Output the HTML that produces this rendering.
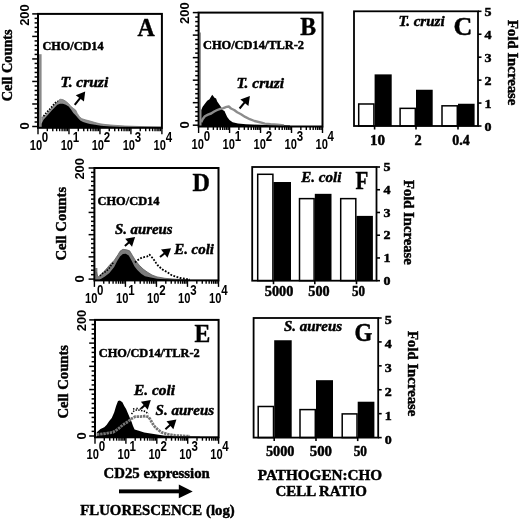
<!DOCTYPE html>
<html><head><meta charset="utf-8"><style>
html,body{margin:0;padding:0;background:#fff;width:520px;height:521px;overflow:hidden}
svg{display:block;filter:grayscale(1) blur(0.35px)}
</style></head><body>
<svg width="520" height="521" viewBox="0 0 520 521">
<rect x="0" y="0" width="520" height="521" fill="#fff"/>
<line x1="32.20" y1="13.90" x2="38.00" y2="13.90" stroke="#000" stroke-width="1.5"/>
<line x1="34.60" y1="18.40" x2="38.00" y2="18.40" stroke="#000" stroke-width="1.5"/>
<line x1="34.60" y1="22.91" x2="38.00" y2="22.91" stroke="#000" stroke-width="1.5"/>
<line x1="34.60" y1="27.41" x2="38.00" y2="27.41" stroke="#000" stroke-width="1.5"/>
<line x1="34.60" y1="31.92" x2="38.00" y2="31.92" stroke="#000" stroke-width="1.5"/>
<line x1="32.20" y1="36.42" x2="38.00" y2="36.42" stroke="#000" stroke-width="1.5"/>
<line x1="34.60" y1="40.92" x2="38.00" y2="40.92" stroke="#000" stroke-width="1.5"/>
<line x1="34.60" y1="45.43" x2="38.00" y2="45.43" stroke="#000" stroke-width="1.5"/>
<line x1="34.60" y1="49.93" x2="38.00" y2="49.93" stroke="#000" stroke-width="1.5"/>
<line x1="34.60" y1="54.44" x2="38.00" y2="54.44" stroke="#000" stroke-width="1.5"/>
<line x1="32.20" y1="58.94" x2="38.00" y2="58.94" stroke="#000" stroke-width="1.5"/>
<line x1="34.60" y1="63.44" x2="38.00" y2="63.44" stroke="#000" stroke-width="1.5"/>
<line x1="34.60" y1="67.95" x2="38.00" y2="67.95" stroke="#000" stroke-width="1.5"/>
<line x1="34.60" y1="72.45" x2="38.00" y2="72.45" stroke="#000" stroke-width="1.5"/>
<line x1="34.60" y1="76.96" x2="38.00" y2="76.96" stroke="#000" stroke-width="1.5"/>
<line x1="32.20" y1="81.46" x2="38.00" y2="81.46" stroke="#000" stroke-width="1.5"/>
<line x1="34.60" y1="85.96" x2="38.00" y2="85.96" stroke="#000" stroke-width="1.5"/>
<line x1="34.60" y1="90.47" x2="38.00" y2="90.47" stroke="#000" stroke-width="1.5"/>
<line x1="34.60" y1="94.97" x2="38.00" y2="94.97" stroke="#000" stroke-width="1.5"/>
<line x1="34.60" y1="99.48" x2="38.00" y2="99.48" stroke="#000" stroke-width="1.5"/>
<line x1="32.20" y1="103.98" x2="38.00" y2="103.98" stroke="#000" stroke-width="1.5"/>
<line x1="34.60" y1="108.48" x2="38.00" y2="108.48" stroke="#000" stroke-width="1.5"/>
<line x1="34.60" y1="112.99" x2="38.00" y2="112.99" stroke="#000" stroke-width="1.5"/>
<line x1="34.60" y1="117.49" x2="38.00" y2="117.49" stroke="#000" stroke-width="1.5"/>
<line x1="34.60" y1="122.00" x2="38.00" y2="122.00" stroke="#000" stroke-width="1.5"/>
<line x1="32.20" y1="126.50" x2="38.00" y2="126.50" stroke="#000" stroke-width="1.5"/>
<line x1="38.00" y1="127.80" x2="38.00" y2="134.30" stroke="#000" stroke-width="1.4"/>
<line x1="47.32" y1="127.80" x2="47.32" y2="131.20" stroke="#000" stroke-width="1.4"/>
<line x1="52.78" y1="127.80" x2="52.78" y2="131.20" stroke="#000" stroke-width="1.4"/>
<line x1="56.65" y1="127.80" x2="56.65" y2="131.20" stroke="#000" stroke-width="1.4"/>
<line x1="59.65" y1="127.80" x2="59.65" y2="131.20" stroke="#000" stroke-width="1.4"/>
<line x1="62.10" y1="127.80" x2="62.10" y2="131.20" stroke="#000" stroke-width="1.4"/>
<line x1="64.18" y1="127.80" x2="64.18" y2="131.20" stroke="#000" stroke-width="1.4"/>
<line x1="65.97" y1="127.80" x2="65.97" y2="131.20" stroke="#000" stroke-width="1.4"/>
<line x1="67.56" y1="127.80" x2="67.56" y2="131.20" stroke="#000" stroke-width="1.4"/>
<line x1="68.97" y1="127.80" x2="68.97" y2="134.30" stroke="#000" stroke-width="1.4"/>
<line x1="78.30" y1="127.80" x2="78.30" y2="131.20" stroke="#000" stroke-width="1.4"/>
<line x1="83.75" y1="127.80" x2="83.75" y2="131.20" stroke="#000" stroke-width="1.4"/>
<line x1="87.62" y1="127.80" x2="87.62" y2="131.20" stroke="#000" stroke-width="1.4"/>
<line x1="90.63" y1="127.80" x2="90.63" y2="131.20" stroke="#000" stroke-width="1.4"/>
<line x1="93.08" y1="127.80" x2="93.08" y2="131.20" stroke="#000" stroke-width="1.4"/>
<line x1="95.15" y1="127.80" x2="95.15" y2="131.20" stroke="#000" stroke-width="1.4"/>
<line x1="96.95" y1="127.80" x2="96.95" y2="131.20" stroke="#000" stroke-width="1.4"/>
<line x1="98.53" y1="127.80" x2="98.53" y2="131.20" stroke="#000" stroke-width="1.4"/>
<line x1="99.95" y1="127.80" x2="99.95" y2="134.30" stroke="#000" stroke-width="1.4"/>
<line x1="109.27" y1="127.80" x2="109.27" y2="131.20" stroke="#000" stroke-width="1.4"/>
<line x1="114.73" y1="127.80" x2="114.73" y2="131.20" stroke="#000" stroke-width="1.4"/>
<line x1="118.60" y1="127.80" x2="118.60" y2="131.20" stroke="#000" stroke-width="1.4"/>
<line x1="121.60" y1="127.80" x2="121.60" y2="131.20" stroke="#000" stroke-width="1.4"/>
<line x1="124.05" y1="127.80" x2="124.05" y2="131.20" stroke="#000" stroke-width="1.4"/>
<line x1="126.13" y1="127.80" x2="126.13" y2="131.20" stroke="#000" stroke-width="1.4"/>
<line x1="127.92" y1="127.80" x2="127.92" y2="131.20" stroke="#000" stroke-width="1.4"/>
<line x1="129.51" y1="127.80" x2="129.51" y2="131.20" stroke="#000" stroke-width="1.4"/>
<line x1="130.93" y1="127.80" x2="130.93" y2="134.30" stroke="#000" stroke-width="1.4"/>
<line x1="140.25" y1="127.80" x2="140.25" y2="131.20" stroke="#000" stroke-width="1.4"/>
<line x1="145.70" y1="127.80" x2="145.70" y2="131.20" stroke="#000" stroke-width="1.4"/>
<line x1="149.57" y1="127.80" x2="149.57" y2="131.20" stroke="#000" stroke-width="1.4"/>
<line x1="152.58" y1="127.80" x2="152.58" y2="131.20" stroke="#000" stroke-width="1.4"/>
<line x1="155.03" y1="127.80" x2="155.03" y2="131.20" stroke="#000" stroke-width="1.4"/>
<line x1="157.10" y1="127.80" x2="157.10" y2="131.20" stroke="#000" stroke-width="1.4"/>
<line x1="158.90" y1="127.80" x2="158.90" y2="131.20" stroke="#000" stroke-width="1.4"/>
<line x1="160.48" y1="127.80" x2="160.48" y2="131.20" stroke="#000" stroke-width="1.4"/>
<line x1="161.90" y1="127.80" x2="161.90" y2="134.30" stroke="#000" stroke-width="1.4"/>
<text x="29.7" y="150.0" style="font-family:'Liberation Sans',sans-serif;font-size:15.5px;font-weight:bold;" text-anchor="start" textLength="12.4" lengthAdjust="spacingAndGlyphs">10</text>
<text x="41.8" y="142.1" style="font-family:'Liberation Sans',sans-serif;font-size:14.0px;font-weight:bold;" text-anchor="start" textLength="6.4" lengthAdjust="spacingAndGlyphs">0</text>
<text x="60.675" y="150.0" style="font-family:'Liberation Sans',sans-serif;font-size:15.5px;font-weight:bold;" text-anchor="start" textLength="12.4" lengthAdjust="spacingAndGlyphs">10</text>
<text x="72.77499999999999" y="142.1" style="font-family:'Liberation Sans',sans-serif;font-size:14.0px;font-weight:bold;" text-anchor="start" textLength="6.4" lengthAdjust="spacingAndGlyphs">1</text>
<text x="91.64999999999999" y="150.0" style="font-family:'Liberation Sans',sans-serif;font-size:15.5px;font-weight:bold;" text-anchor="start" textLength="12.4" lengthAdjust="spacingAndGlyphs">10</text>
<text x="103.74999999999999" y="142.1" style="font-family:'Liberation Sans',sans-serif;font-size:14.0px;font-weight:bold;" text-anchor="start" textLength="6.4" lengthAdjust="spacingAndGlyphs">2</text>
<text x="122.62500000000001" y="150.0" style="font-family:'Liberation Sans',sans-serif;font-size:15.5px;font-weight:bold;" text-anchor="start" textLength="12.4" lengthAdjust="spacingAndGlyphs">10</text>
<text x="134.72500000000002" y="142.1" style="font-family:'Liberation Sans',sans-serif;font-size:14.0px;font-weight:bold;" text-anchor="start" textLength="6.4" lengthAdjust="spacingAndGlyphs">3</text>
<text x="153.60000000000002" y="150.0" style="font-family:'Liberation Sans',sans-serif;font-size:15.5px;font-weight:bold;" text-anchor="start" textLength="12.4" lengthAdjust="spacingAndGlyphs">10</text>
<text x="165.70000000000002" y="142.1" style="font-family:'Liberation Sans',sans-serif;font-size:14.0px;font-weight:bold;" text-anchor="start" textLength="6.4" lengthAdjust="spacingAndGlyphs">4</text>
<text x="28.7" y="25.8" style="font-family:'Liberation Sans',sans-serif;font-size:12.4px;font-weight:bold;" text-anchor="start" textLength="21.5" lengthAdjust="spacingAndGlyphs" transform="rotate(-90 28.7 25.8)">200</text>
<text x="28.7" y="129.5" style="font-family:'Liberation Sans',sans-serif;font-size:12.4px;font-weight:bold;" text-anchor="start" textLength="7.2" lengthAdjust="spacingAndGlyphs" transform="rotate(-90 28.7 129.5)">0</text>
<text x="137.6" y="35.6" style="font-family:'Liberation Serif',serif;font-size:26px;font-weight:bold;" text-anchor="start" textLength="17.2" lengthAdjust="spacingAndGlyphs" stroke="#000" stroke-width="0.45">A</text>
<text x="42.4" y="50.0" style="font-family:'Liberation Serif',serif;font-size:12px;font-weight:bold;" text-anchor="start" textLength="61.2" lengthAdjust="spacingAndGlyphs" stroke="#000" stroke-width="0.45">CHO/CD14</text>
<text x="60.6" y="86.5" style="font-family:'Liberation Serif',serif;font-size:14.3px;font-weight:bold;font-style:italic;" text-anchor="start" textLength="47.6" lengthAdjust="spacingAndGlyphs" stroke="#000" stroke-width="0.45">T. cruzi</text>
<text x="11.6" y="101.3" style="font-family:'Liberation Serif',serif;font-size:14.2px;font-weight:bold;" text-anchor="start" textLength="72" lengthAdjust="spacingAndGlyphs" transform="rotate(-90 11.6 101.3)" stroke="#000" stroke-width="0.45">Cell Counts</text>
<line x1="192.80" y1="12.60" x2="198.60" y2="12.60" stroke="#000" stroke-width="1.5"/>
<line x1="195.20" y1="17.10" x2="198.60" y2="17.10" stroke="#000" stroke-width="1.5"/>
<line x1="195.20" y1="21.61" x2="198.60" y2="21.61" stroke="#000" stroke-width="1.5"/>
<line x1="195.20" y1="26.11" x2="198.60" y2="26.11" stroke="#000" stroke-width="1.5"/>
<line x1="195.20" y1="30.62" x2="198.60" y2="30.62" stroke="#000" stroke-width="1.5"/>
<line x1="192.80" y1="35.12" x2="198.60" y2="35.12" stroke="#000" stroke-width="1.5"/>
<line x1="195.20" y1="39.62" x2="198.60" y2="39.62" stroke="#000" stroke-width="1.5"/>
<line x1="195.20" y1="44.13" x2="198.60" y2="44.13" stroke="#000" stroke-width="1.5"/>
<line x1="195.20" y1="48.63" x2="198.60" y2="48.63" stroke="#000" stroke-width="1.5"/>
<line x1="195.20" y1="53.14" x2="198.60" y2="53.14" stroke="#000" stroke-width="1.5"/>
<line x1="192.80" y1="57.64" x2="198.60" y2="57.64" stroke="#000" stroke-width="1.5"/>
<line x1="195.20" y1="62.14" x2="198.60" y2="62.14" stroke="#000" stroke-width="1.5"/>
<line x1="195.20" y1="66.65" x2="198.60" y2="66.65" stroke="#000" stroke-width="1.5"/>
<line x1="195.20" y1="71.15" x2="198.60" y2="71.15" stroke="#000" stroke-width="1.5"/>
<line x1="195.20" y1="75.66" x2="198.60" y2="75.66" stroke="#000" stroke-width="1.5"/>
<line x1="192.80" y1="80.16" x2="198.60" y2="80.16" stroke="#000" stroke-width="1.5"/>
<line x1="195.20" y1="84.66" x2="198.60" y2="84.66" stroke="#000" stroke-width="1.5"/>
<line x1="195.20" y1="89.17" x2="198.60" y2="89.17" stroke="#000" stroke-width="1.5"/>
<line x1="195.20" y1="93.67" x2="198.60" y2="93.67" stroke="#000" stroke-width="1.5"/>
<line x1="195.20" y1="98.18" x2="198.60" y2="98.18" stroke="#000" stroke-width="1.5"/>
<line x1="192.80" y1="102.68" x2="198.60" y2="102.68" stroke="#000" stroke-width="1.5"/>
<line x1="195.20" y1="107.18" x2="198.60" y2="107.18" stroke="#000" stroke-width="1.5"/>
<line x1="195.20" y1="111.69" x2="198.60" y2="111.69" stroke="#000" stroke-width="1.5"/>
<line x1="195.20" y1="116.19" x2="198.60" y2="116.19" stroke="#000" stroke-width="1.5"/>
<line x1="195.20" y1="120.70" x2="198.60" y2="120.70" stroke="#000" stroke-width="1.5"/>
<line x1="192.80" y1="125.20" x2="198.60" y2="125.20" stroke="#000" stroke-width="1.5"/>
<line x1="198.60" y1="126.50" x2="198.60" y2="133.00" stroke="#000" stroke-width="1.4"/>
<line x1="207.92" y1="126.50" x2="207.92" y2="129.90" stroke="#000" stroke-width="1.4"/>
<line x1="213.38" y1="126.50" x2="213.38" y2="129.90" stroke="#000" stroke-width="1.4"/>
<line x1="217.25" y1="126.50" x2="217.25" y2="129.90" stroke="#000" stroke-width="1.4"/>
<line x1="220.25" y1="126.50" x2="220.25" y2="129.90" stroke="#000" stroke-width="1.4"/>
<line x1="222.70" y1="126.50" x2="222.70" y2="129.90" stroke="#000" stroke-width="1.4"/>
<line x1="224.78" y1="126.50" x2="224.78" y2="129.90" stroke="#000" stroke-width="1.4"/>
<line x1="226.57" y1="126.50" x2="226.57" y2="129.90" stroke="#000" stroke-width="1.4"/>
<line x1="228.16" y1="126.50" x2="228.16" y2="129.90" stroke="#000" stroke-width="1.4"/>
<line x1="229.57" y1="126.50" x2="229.57" y2="133.00" stroke="#000" stroke-width="1.4"/>
<line x1="238.90" y1="126.50" x2="238.90" y2="129.90" stroke="#000" stroke-width="1.4"/>
<line x1="244.35" y1="126.50" x2="244.35" y2="129.90" stroke="#000" stroke-width="1.4"/>
<line x1="248.22" y1="126.50" x2="248.22" y2="129.90" stroke="#000" stroke-width="1.4"/>
<line x1="251.23" y1="126.50" x2="251.23" y2="129.90" stroke="#000" stroke-width="1.4"/>
<line x1="253.68" y1="126.50" x2="253.68" y2="129.90" stroke="#000" stroke-width="1.4"/>
<line x1="255.75" y1="126.50" x2="255.75" y2="129.90" stroke="#000" stroke-width="1.4"/>
<line x1="257.55" y1="126.50" x2="257.55" y2="129.90" stroke="#000" stroke-width="1.4"/>
<line x1="259.13" y1="126.50" x2="259.13" y2="129.90" stroke="#000" stroke-width="1.4"/>
<line x1="260.55" y1="126.50" x2="260.55" y2="133.00" stroke="#000" stroke-width="1.4"/>
<line x1="269.87" y1="126.50" x2="269.87" y2="129.90" stroke="#000" stroke-width="1.4"/>
<line x1="275.33" y1="126.50" x2="275.33" y2="129.90" stroke="#000" stroke-width="1.4"/>
<line x1="279.20" y1="126.50" x2="279.20" y2="129.90" stroke="#000" stroke-width="1.4"/>
<line x1="282.20" y1="126.50" x2="282.20" y2="129.90" stroke="#000" stroke-width="1.4"/>
<line x1="284.65" y1="126.50" x2="284.65" y2="129.90" stroke="#000" stroke-width="1.4"/>
<line x1="286.73" y1="126.50" x2="286.73" y2="129.90" stroke="#000" stroke-width="1.4"/>
<line x1="288.52" y1="126.50" x2="288.52" y2="129.90" stroke="#000" stroke-width="1.4"/>
<line x1="290.11" y1="126.50" x2="290.11" y2="129.90" stroke="#000" stroke-width="1.4"/>
<line x1="291.52" y1="126.50" x2="291.52" y2="133.00" stroke="#000" stroke-width="1.4"/>
<line x1="300.85" y1="126.50" x2="300.85" y2="129.90" stroke="#000" stroke-width="1.4"/>
<line x1="306.30" y1="126.50" x2="306.30" y2="129.90" stroke="#000" stroke-width="1.4"/>
<line x1="310.17" y1="126.50" x2="310.17" y2="129.90" stroke="#000" stroke-width="1.4"/>
<line x1="313.18" y1="126.50" x2="313.18" y2="129.90" stroke="#000" stroke-width="1.4"/>
<line x1="315.63" y1="126.50" x2="315.63" y2="129.90" stroke="#000" stroke-width="1.4"/>
<line x1="317.70" y1="126.50" x2="317.70" y2="129.90" stroke="#000" stroke-width="1.4"/>
<line x1="319.50" y1="126.50" x2="319.50" y2="129.90" stroke="#000" stroke-width="1.4"/>
<line x1="321.08" y1="126.50" x2="321.08" y2="129.90" stroke="#000" stroke-width="1.4"/>
<line x1="322.50" y1="126.50" x2="322.50" y2="133.00" stroke="#000" stroke-width="1.4"/>
<text x="191.60000000000002" y="148.9" style="font-family:'Liberation Sans',sans-serif;font-size:15.5px;font-weight:bold;" text-anchor="start" textLength="12.4" lengthAdjust="spacingAndGlyphs">10</text>
<text x="203.70000000000002" y="141.0" style="font-family:'Liberation Sans',sans-serif;font-size:14.0px;font-weight:bold;" text-anchor="start" textLength="6.4" lengthAdjust="spacingAndGlyphs">0</text>
<text x="222.57500000000002" y="148.9" style="font-family:'Liberation Sans',sans-serif;font-size:15.5px;font-weight:bold;" text-anchor="start" textLength="12.4" lengthAdjust="spacingAndGlyphs">10</text>
<text x="234.675" y="141.0" style="font-family:'Liberation Sans',sans-serif;font-size:14.0px;font-weight:bold;" text-anchor="start" textLength="6.4" lengthAdjust="spacingAndGlyphs">1</text>
<text x="253.55" y="148.9" style="font-family:'Liberation Sans',sans-serif;font-size:15.5px;font-weight:bold;" text-anchor="start" textLength="12.4" lengthAdjust="spacingAndGlyphs">10</text>
<text x="265.65000000000003" y="141.0" style="font-family:'Liberation Sans',sans-serif;font-size:14.0px;font-weight:bold;" text-anchor="start" textLength="6.4" lengthAdjust="spacingAndGlyphs">2</text>
<text x="284.52500000000003" y="148.9" style="font-family:'Liberation Sans',sans-serif;font-size:15.5px;font-weight:bold;" text-anchor="start" textLength="12.4" lengthAdjust="spacingAndGlyphs">10</text>
<text x="296.62500000000006" y="141.0" style="font-family:'Liberation Sans',sans-serif;font-size:14.0px;font-weight:bold;" text-anchor="start" textLength="6.4" lengthAdjust="spacingAndGlyphs">3</text>
<text x="315.50000000000006" y="148.9" style="font-family:'Liberation Sans',sans-serif;font-size:15.5px;font-weight:bold;" text-anchor="start" textLength="12.4" lengthAdjust="spacingAndGlyphs">10</text>
<text x="327.6000000000001" y="141.0" style="font-family:'Liberation Sans',sans-serif;font-size:14.0px;font-weight:bold;" text-anchor="start" textLength="6.4" lengthAdjust="spacingAndGlyphs">4</text>
<text x="188.8" y="23.9" style="font-family:'Liberation Sans',sans-serif;font-size:12.4px;font-weight:bold;" text-anchor="start" textLength="21.5" lengthAdjust="spacingAndGlyphs" transform="rotate(-90 188.8 23.9)">200</text>
<text x="188.8" y="128.4" style="font-family:'Liberation Sans',sans-serif;font-size:12.4px;font-weight:bold;" text-anchor="start" textLength="7.2" lengthAdjust="spacingAndGlyphs" transform="rotate(-90 188.8 128.4)">0</text>
<text x="300.2" y="35.0" style="font-family:'Liberation Serif',serif;font-size:26px;font-weight:bold;" text-anchor="start" textLength="15.8" lengthAdjust="spacingAndGlyphs" stroke="#000" stroke-width="0.45">B</text>
<text x="203.0" y="49.0" style="font-family:'Liberation Serif',serif;font-size:12px;font-weight:bold;" text-anchor="start" textLength="101" lengthAdjust="spacingAndGlyphs" stroke="#000" stroke-width="0.45">CHO/CD14/TLR-2</text>
<text x="236.6" y="88.2" style="font-family:'Liberation Serif',serif;font-size:14.3px;font-weight:bold;font-style:italic;" text-anchor="start" textLength="47.4" lengthAdjust="spacingAndGlyphs" stroke="#000" stroke-width="0.45">T. cruzi</text>
<rect x="358.70" y="103.99" width="15.20" height="22.01" fill="#fff" stroke="#000" stroke-width="1.5"/>
<rect x="374.60" y="74.38" width="17.10" height="51.62" fill="#000"/>
<rect x="400.10" y="108.35" width="15.20" height="17.65" fill="#fff" stroke="#000" stroke-width="1.5"/>
<rect x="416.00" y="89.75" width="16.70" height="36.25" fill="#000"/>
<rect x="442.00" y="105.82" width="15.30" height="20.18" fill="#fff" stroke="#000" stroke-width="1.5"/>
<rect x="458.00" y="103.75" width="16.60" height="22.25" fill="#000"/>
<rect x="354.00" y="11.30" width="124.00" height="114.70" fill="none" stroke="#000" stroke-width="1.8"/>
<line x1="478.00" y1="126.00" x2="481.50" y2="126.00" stroke="#000" stroke-width="1.6"/>
<text x="484.4" y="130.89999999999998" style="font-family:'Liberation Serif',serif;font-size:12.2px;font-weight:bold;" text-anchor="start" textLength="7.0" lengthAdjust="spacingAndGlyphs" stroke="#000" stroke-width="0.45">0</text>
<line x1="478.00" y1="103.06" x2="481.50" y2="103.06" stroke="#000" stroke-width="1.6"/>
<text x="484.4" y="107.96000000000001" style="font-family:'Liberation Serif',serif;font-size:12.2px;font-weight:bold;" text-anchor="start" textLength="7.0" lengthAdjust="spacingAndGlyphs" stroke="#000" stroke-width="0.45">1</text>
<line x1="478.00" y1="80.12" x2="481.50" y2="80.12" stroke="#000" stroke-width="1.6"/>
<text x="484.4" y="85.02000000000001" style="font-family:'Liberation Serif',serif;font-size:12.2px;font-weight:bold;" text-anchor="start" textLength="7.0" lengthAdjust="spacingAndGlyphs" stroke="#000" stroke-width="0.45">2</text>
<line x1="478.00" y1="57.18" x2="481.50" y2="57.18" stroke="#000" stroke-width="1.6"/>
<text x="484.4" y="62.08" style="font-family:'Liberation Serif',serif;font-size:12.2px;font-weight:bold;" text-anchor="start" textLength="7.0" lengthAdjust="spacingAndGlyphs" stroke="#000" stroke-width="0.45">3</text>
<line x1="478.00" y1="34.24" x2="481.50" y2="34.24" stroke="#000" stroke-width="1.6"/>
<text x="484.4" y="39.14" style="font-family:'Liberation Serif',serif;font-size:12.2px;font-weight:bold;" text-anchor="start" textLength="7.0" lengthAdjust="spacingAndGlyphs" stroke="#000" stroke-width="0.45">4</text>
<line x1="478.00" y1="11.30" x2="481.50" y2="11.30" stroke="#000" stroke-width="1.6"/>
<text x="484.4" y="16.199999999999996" style="font-family:'Liberation Serif',serif;font-size:12.2px;font-weight:bold;" text-anchor="start" textLength="7.0" lengthAdjust="spacingAndGlyphs" stroke="#000" stroke-width="0.45">5</text>
<line x1="374.60" y1="126.00" x2="374.60" y2="129.50" stroke="#000" stroke-width="1.6"/>
<line x1="416.00" y1="126.00" x2="416.00" y2="129.50" stroke="#000" stroke-width="1.6"/>
<line x1="458.00" y1="126.00" x2="458.00" y2="129.50" stroke="#000" stroke-width="1.6"/>
<text x="377.5" y="144.6" style="font-family:'Liberation Serif',serif;font-size:14px;font-weight:bold;" text-anchor="middle" textLength="15" lengthAdjust="spacingAndGlyphs" stroke="#000" stroke-width="0.45">10</text>
<text x="418" y="144.6" style="font-family:'Liberation Serif',serif;font-size:14px;font-weight:bold;" text-anchor="middle" textLength="7.2" lengthAdjust="spacingAndGlyphs" stroke="#000" stroke-width="0.45">2</text>
<text x="461" y="144.6" style="font-family:'Liberation Serif',serif;font-size:14px;font-weight:bold;" text-anchor="middle" textLength="17.5" lengthAdjust="spacingAndGlyphs" stroke="#000" stroke-width="0.45">0.4</text>
<text x="507.7" y="20" style="font-family:'Liberation Serif',serif;font-size:14px;font-weight:bold;" text-anchor="start" textLength="85.4" lengthAdjust="spacingAndGlyphs" transform="rotate(90 507.7 20)" stroke="#000" stroke-width="0.45">Fold Increase</text>
<text x="398.4" y="26.4" style="font-family:'Liberation Serif',serif;font-size:14.3px;font-weight:bold;font-style:italic;" text-anchor="start" textLength="46.2" lengthAdjust="spacingAndGlyphs" stroke="#000" stroke-width="0.45">T. cruzi</text>
<text x="453.4" y="35.0" style="font-family:'Liberation Serif',serif;font-size:26px;font-weight:bold;" text-anchor="start" textLength="18.8" lengthAdjust="spacingAndGlyphs" stroke="#000" stroke-width="0.45">C</text>
<line x1="88.60" y1="168.00" x2="94.40" y2="168.00" stroke="#000" stroke-width="1.5"/>
<line x1="91.00" y1="172.44" x2="94.40" y2="172.44" stroke="#000" stroke-width="1.5"/>
<line x1="91.00" y1="176.89" x2="94.40" y2="176.89" stroke="#000" stroke-width="1.5"/>
<line x1="91.00" y1="181.33" x2="94.40" y2="181.33" stroke="#000" stroke-width="1.5"/>
<line x1="91.00" y1="185.78" x2="94.40" y2="185.78" stroke="#000" stroke-width="1.5"/>
<line x1="88.60" y1="190.22" x2="94.40" y2="190.22" stroke="#000" stroke-width="1.5"/>
<line x1="91.00" y1="194.66" x2="94.40" y2="194.66" stroke="#000" stroke-width="1.5"/>
<line x1="91.00" y1="199.11" x2="94.40" y2="199.11" stroke="#000" stroke-width="1.5"/>
<line x1="91.00" y1="203.55" x2="94.40" y2="203.55" stroke="#000" stroke-width="1.5"/>
<line x1="91.00" y1="208.00" x2="94.40" y2="208.00" stroke="#000" stroke-width="1.5"/>
<line x1="88.60" y1="212.44" x2="94.40" y2="212.44" stroke="#000" stroke-width="1.5"/>
<line x1="91.00" y1="216.88" x2="94.40" y2="216.88" stroke="#000" stroke-width="1.5"/>
<line x1="91.00" y1="221.33" x2="94.40" y2="221.33" stroke="#000" stroke-width="1.5"/>
<line x1="91.00" y1="225.77" x2="94.40" y2="225.77" stroke="#000" stroke-width="1.5"/>
<line x1="91.00" y1="230.22" x2="94.40" y2="230.22" stroke="#000" stroke-width="1.5"/>
<line x1="88.60" y1="234.66" x2="94.40" y2="234.66" stroke="#000" stroke-width="1.5"/>
<line x1="91.00" y1="239.10" x2="94.40" y2="239.10" stroke="#000" stroke-width="1.5"/>
<line x1="91.00" y1="243.55" x2="94.40" y2="243.55" stroke="#000" stroke-width="1.5"/>
<line x1="91.00" y1="247.99" x2="94.40" y2="247.99" stroke="#000" stroke-width="1.5"/>
<line x1="91.00" y1="252.44" x2="94.40" y2="252.44" stroke="#000" stroke-width="1.5"/>
<line x1="88.60" y1="256.88" x2="94.40" y2="256.88" stroke="#000" stroke-width="1.5"/>
<line x1="91.00" y1="261.32" x2="94.40" y2="261.32" stroke="#000" stroke-width="1.5"/>
<line x1="91.00" y1="265.77" x2="94.40" y2="265.77" stroke="#000" stroke-width="1.5"/>
<line x1="91.00" y1="270.21" x2="94.40" y2="270.21" stroke="#000" stroke-width="1.5"/>
<line x1="91.00" y1="274.66" x2="94.40" y2="274.66" stroke="#000" stroke-width="1.5"/>
<line x1="88.60" y1="279.10" x2="94.40" y2="279.10" stroke="#000" stroke-width="1.5"/>
<line x1="94.40" y1="280.40" x2="94.40" y2="286.90" stroke="#000" stroke-width="1.4"/>
<line x1="103.74" y1="280.40" x2="103.74" y2="283.80" stroke="#000" stroke-width="1.4"/>
<line x1="109.20" y1="280.40" x2="109.20" y2="283.80" stroke="#000" stroke-width="1.4"/>
<line x1="113.08" y1="280.40" x2="113.08" y2="283.80" stroke="#000" stroke-width="1.4"/>
<line x1="116.09" y1="280.40" x2="116.09" y2="283.80" stroke="#000" stroke-width="1.4"/>
<line x1="118.54" y1="280.40" x2="118.54" y2="283.80" stroke="#000" stroke-width="1.4"/>
<line x1="120.62" y1="280.40" x2="120.62" y2="283.80" stroke="#000" stroke-width="1.4"/>
<line x1="122.42" y1="280.40" x2="122.42" y2="283.80" stroke="#000" stroke-width="1.4"/>
<line x1="124.01" y1="280.40" x2="124.01" y2="283.80" stroke="#000" stroke-width="1.4"/>
<line x1="125.43" y1="280.40" x2="125.43" y2="286.90" stroke="#000" stroke-width="1.4"/>
<line x1="134.76" y1="280.40" x2="134.76" y2="283.80" stroke="#000" stroke-width="1.4"/>
<line x1="140.23" y1="280.40" x2="140.23" y2="283.80" stroke="#000" stroke-width="1.4"/>
<line x1="144.10" y1="280.40" x2="144.10" y2="283.80" stroke="#000" stroke-width="1.4"/>
<line x1="147.11" y1="280.40" x2="147.11" y2="283.80" stroke="#000" stroke-width="1.4"/>
<line x1="149.57" y1="280.40" x2="149.57" y2="283.80" stroke="#000" stroke-width="1.4"/>
<line x1="151.64" y1="280.40" x2="151.64" y2="283.80" stroke="#000" stroke-width="1.4"/>
<line x1="153.44" y1="280.40" x2="153.44" y2="283.80" stroke="#000" stroke-width="1.4"/>
<line x1="155.03" y1="280.40" x2="155.03" y2="283.80" stroke="#000" stroke-width="1.4"/>
<line x1="156.45" y1="280.40" x2="156.45" y2="286.90" stroke="#000" stroke-width="1.4"/>
<line x1="165.79" y1="280.40" x2="165.79" y2="283.80" stroke="#000" stroke-width="1.4"/>
<line x1="171.25" y1="280.40" x2="171.25" y2="283.80" stroke="#000" stroke-width="1.4"/>
<line x1="175.13" y1="280.40" x2="175.13" y2="283.80" stroke="#000" stroke-width="1.4"/>
<line x1="178.14" y1="280.40" x2="178.14" y2="283.80" stroke="#000" stroke-width="1.4"/>
<line x1="180.59" y1="280.40" x2="180.59" y2="283.80" stroke="#000" stroke-width="1.4"/>
<line x1="182.67" y1="280.40" x2="182.67" y2="283.80" stroke="#000" stroke-width="1.4"/>
<line x1="184.47" y1="280.40" x2="184.47" y2="283.80" stroke="#000" stroke-width="1.4"/>
<line x1="186.06" y1="280.40" x2="186.06" y2="283.80" stroke="#000" stroke-width="1.4"/>
<line x1="187.47" y1="280.40" x2="187.47" y2="286.90" stroke="#000" stroke-width="1.4"/>
<line x1="196.81" y1="280.40" x2="196.81" y2="283.80" stroke="#000" stroke-width="1.4"/>
<line x1="202.28" y1="280.40" x2="202.28" y2="283.80" stroke="#000" stroke-width="1.4"/>
<line x1="206.15" y1="280.40" x2="206.15" y2="283.80" stroke="#000" stroke-width="1.4"/>
<line x1="209.16" y1="280.40" x2="209.16" y2="283.80" stroke="#000" stroke-width="1.4"/>
<line x1="211.62" y1="280.40" x2="211.62" y2="283.80" stroke="#000" stroke-width="1.4"/>
<line x1="213.69" y1="280.40" x2="213.69" y2="283.80" stroke="#000" stroke-width="1.4"/>
<line x1="215.49" y1="280.40" x2="215.49" y2="283.80" stroke="#000" stroke-width="1.4"/>
<line x1="217.08" y1="280.40" x2="217.08" y2="283.80" stroke="#000" stroke-width="1.4"/>
<line x1="218.50" y1="280.40" x2="218.50" y2="286.90" stroke="#000" stroke-width="1.4"/>
<text x="85.0" y="302.6" style="font-family:'Liberation Sans',sans-serif;font-size:15.5px;font-weight:bold;" text-anchor="start" textLength="12.4" lengthAdjust="spacingAndGlyphs">10</text>
<text x="97.1" y="294.70000000000005" style="font-family:'Liberation Sans',sans-serif;font-size:14.0px;font-weight:bold;" text-anchor="start" textLength="6.4" lengthAdjust="spacingAndGlyphs">0</text>
<text x="116.02499999999999" y="302.6" style="font-family:'Liberation Sans',sans-serif;font-size:15.5px;font-weight:bold;" text-anchor="start" textLength="12.4" lengthAdjust="spacingAndGlyphs">10</text>
<text x="128.125" y="294.70000000000005" style="font-family:'Liberation Sans',sans-serif;font-size:14.0px;font-weight:bold;" text-anchor="start" textLength="6.4" lengthAdjust="spacingAndGlyphs">1</text>
<text x="147.05" y="302.6" style="font-family:'Liberation Sans',sans-serif;font-size:15.5px;font-weight:bold;" text-anchor="start" textLength="12.4" lengthAdjust="spacingAndGlyphs">10</text>
<text x="159.15" y="294.70000000000005" style="font-family:'Liberation Sans',sans-serif;font-size:14.0px;font-weight:bold;" text-anchor="start" textLength="6.4" lengthAdjust="spacingAndGlyphs">2</text>
<text x="178.075" y="302.6" style="font-family:'Liberation Sans',sans-serif;font-size:15.5px;font-weight:bold;" text-anchor="start" textLength="12.4" lengthAdjust="spacingAndGlyphs">10</text>
<text x="190.17499999999998" y="294.70000000000005" style="font-family:'Liberation Sans',sans-serif;font-size:14.0px;font-weight:bold;" text-anchor="start" textLength="6.4" lengthAdjust="spacingAndGlyphs">3</text>
<text x="209.10000000000002" y="302.6" style="font-family:'Liberation Sans',sans-serif;font-size:15.5px;font-weight:bold;" text-anchor="start" textLength="12.4" lengthAdjust="spacingAndGlyphs">10</text>
<text x="221.20000000000002" y="294.70000000000005" style="font-family:'Liberation Sans',sans-serif;font-size:14.0px;font-weight:bold;" text-anchor="start" textLength="6.4" lengthAdjust="spacingAndGlyphs">4</text>
<text x="84.5" y="179.6" style="font-family:'Liberation Sans',sans-serif;font-size:12.4px;font-weight:bold;" text-anchor="start" textLength="21.5" lengthAdjust="spacingAndGlyphs" transform="rotate(-90 84.5 179.6)">200</text>
<text x="84.5" y="282.4" style="font-family:'Liberation Sans',sans-serif;font-size:12.4px;font-weight:bold;" text-anchor="start" textLength="7.2" lengthAdjust="spacingAndGlyphs" transform="rotate(-90 84.5 282.4)">0</text>
<text x="192.6" y="191.3" style="font-family:'Liberation Serif',serif;font-size:26px;font-weight:bold;" text-anchor="start" textLength="17.4" lengthAdjust="spacingAndGlyphs" stroke="#000" stroke-width="0.45">D</text>
<text x="97.5" y="204.5" style="font-family:'Liberation Serif',serif;font-size:12px;font-weight:bold;" text-anchor="start" textLength="62" lengthAdjust="spacingAndGlyphs" stroke="#000" stroke-width="0.45">CHO/CD14</text>
<text x="115.0" y="233.5" style="font-family:'Liberation Serif',serif;font-size:14.3px;font-weight:bold;font-style:italic;" text-anchor="start" textLength="57.5" lengthAdjust="spacingAndGlyphs" stroke="#000" stroke-width="0.45">S. aureus</text>
<text x="174.2" y="253.8" style="font-family:'Liberation Serif',serif;font-size:14.3px;font-weight:bold;font-style:italic;" text-anchor="start" textLength="39.8" lengthAdjust="spacingAndGlyphs" stroke="#000" stroke-width="0.45">E. coli</text>
<text x="66.0" y="260.6" style="font-family:'Liberation Serif',serif;font-size:14.2px;font-weight:bold;" text-anchor="start" textLength="73.7" lengthAdjust="spacingAndGlyphs" transform="rotate(-90 66.0 260.6)" stroke="#000" stroke-width="0.45">Cell Counts</text>
<rect x="257.70" y="174.29" width="15.20" height="106.41" fill="#fff" stroke="#000" stroke-width="1.5"/>
<rect x="273.50" y="182.01" width="17.50" height="98.69" fill="#000"/>
<rect x="299.50" y="198.63" width="14.60" height="82.07" fill="#fff" stroke="#000" stroke-width="1.5"/>
<rect x="314.80" y="193.83" width="16.70" height="86.87" fill="#000"/>
<rect x="340.70" y="198.63" width="15.10" height="82.07" fill="#fff" stroke="#000" stroke-width="1.5"/>
<rect x="356.50" y="215.89" width="16.40" height="64.81" fill="#000"/>
<rect x="252.20" y="167.00" width="124.30" height="113.70" fill="none" stroke="#000" stroke-width="1.8"/>
<line x1="376.50" y1="280.70" x2="380.00" y2="280.70" stroke="#000" stroke-width="1.6"/>
<text x="383.6" y="284.9" style="font-family:'Liberation Serif',serif;font-size:12.2px;font-weight:bold;" text-anchor="start" textLength="7.0" lengthAdjust="spacingAndGlyphs" stroke="#000" stroke-width="0.45">0</text>
<line x1="376.50" y1="257.96" x2="380.00" y2="257.96" stroke="#000" stroke-width="1.6"/>
<text x="383.6" y="262.15999999999997" style="font-family:'Liberation Serif',serif;font-size:12.2px;font-weight:bold;" text-anchor="start" textLength="7.0" lengthAdjust="spacingAndGlyphs" stroke="#000" stroke-width="0.45">1</text>
<line x1="376.50" y1="235.22" x2="380.00" y2="235.22" stroke="#000" stroke-width="1.6"/>
<text x="383.6" y="239.42" style="font-family:'Liberation Serif',serif;font-size:12.2px;font-weight:bold;" text-anchor="start" textLength="7.0" lengthAdjust="spacingAndGlyphs" stroke="#000" stroke-width="0.45">2</text>
<line x1="376.50" y1="212.48" x2="380.00" y2="212.48" stroke="#000" stroke-width="1.6"/>
<text x="383.6" y="216.67999999999998" style="font-family:'Liberation Serif',serif;font-size:12.2px;font-weight:bold;" text-anchor="start" textLength="7.0" lengthAdjust="spacingAndGlyphs" stroke="#000" stroke-width="0.45">3</text>
<line x1="376.50" y1="189.74" x2="380.00" y2="189.74" stroke="#000" stroke-width="1.6"/>
<text x="383.6" y="193.94" style="font-family:'Liberation Serif',serif;font-size:12.2px;font-weight:bold;" text-anchor="start" textLength="7.0" lengthAdjust="spacingAndGlyphs" stroke="#000" stroke-width="0.45">4</text>
<line x1="376.50" y1="167.00" x2="380.00" y2="167.00" stroke="#000" stroke-width="1.6"/>
<text x="383.6" y="171.2" style="font-family:'Liberation Serif',serif;font-size:12.2px;font-weight:bold;" text-anchor="start" textLength="7.0" lengthAdjust="spacingAndGlyphs" stroke="#000" stroke-width="0.45">5</text>
<line x1="273.50" y1="280.70" x2="273.50" y2="284.20" stroke="#000" stroke-width="1.6"/>
<line x1="314.80" y1="280.70" x2="314.80" y2="284.20" stroke="#000" stroke-width="1.6"/>
<line x1="356.50" y1="280.70" x2="356.50" y2="284.20" stroke="#000" stroke-width="1.6"/>
<text x="279" y="296.4" style="font-family:'Liberation Serif',serif;font-size:14px;font-weight:bold;" text-anchor="middle" textLength="28.5" lengthAdjust="spacingAndGlyphs" stroke="#000" stroke-width="0.45">5000</text>
<text x="319" y="296.4" style="font-family:'Liberation Serif',serif;font-size:14px;font-weight:bold;" text-anchor="middle" textLength="21.3" lengthAdjust="spacingAndGlyphs" stroke="#000" stroke-width="0.45">500</text>
<text x="358.5" y="296.4" style="font-family:'Liberation Serif',serif;font-size:14px;font-weight:bold;" text-anchor="middle" textLength="13" lengthAdjust="spacingAndGlyphs" stroke="#000" stroke-width="0.45">50</text>
<text x="403.6" y="180" style="font-family:'Liberation Serif',serif;font-size:14px;font-weight:bold;" text-anchor="start" textLength="84.7" lengthAdjust="spacingAndGlyphs" transform="rotate(90 403.6 180)" stroke="#000" stroke-width="0.45">Fold Increase</text>
<text x="301.3" y="181.7" style="font-family:'Liberation Serif',serif;font-size:14.3px;font-weight:bold;font-style:italic;" text-anchor="start" textLength="40" lengthAdjust="spacingAndGlyphs" stroke="#000" stroke-width="0.45">E. coli</text>
<text x="355.6" y="189.4" style="font-family:'Liberation Serif',serif;font-size:26px;font-weight:bold;" text-anchor="start" textLength="12.8" lengthAdjust="spacingAndGlyphs" stroke="#000" stroke-width="0.45">F</text>
<line x1="89.20" y1="319.90" x2="95.00" y2="319.90" stroke="#000" stroke-width="1.5"/>
<line x1="91.60" y1="324.54" x2="95.00" y2="324.54" stroke="#000" stroke-width="1.5"/>
<line x1="91.60" y1="329.19" x2="95.00" y2="329.19" stroke="#000" stroke-width="1.5"/>
<line x1="91.60" y1="333.83" x2="95.00" y2="333.83" stroke="#000" stroke-width="1.5"/>
<line x1="91.60" y1="338.48" x2="95.00" y2="338.48" stroke="#000" stroke-width="1.5"/>
<line x1="89.20" y1="343.12" x2="95.00" y2="343.12" stroke="#000" stroke-width="1.5"/>
<line x1="91.60" y1="347.76" x2="95.00" y2="347.76" stroke="#000" stroke-width="1.5"/>
<line x1="91.60" y1="352.41" x2="95.00" y2="352.41" stroke="#000" stroke-width="1.5"/>
<line x1="91.60" y1="357.05" x2="95.00" y2="357.05" stroke="#000" stroke-width="1.5"/>
<line x1="91.60" y1="361.70" x2="95.00" y2="361.70" stroke="#000" stroke-width="1.5"/>
<line x1="89.20" y1="366.34" x2="95.00" y2="366.34" stroke="#000" stroke-width="1.5"/>
<line x1="91.60" y1="370.98" x2="95.00" y2="370.98" stroke="#000" stroke-width="1.5"/>
<line x1="91.60" y1="375.63" x2="95.00" y2="375.63" stroke="#000" stroke-width="1.5"/>
<line x1="91.60" y1="380.27" x2="95.00" y2="380.27" stroke="#000" stroke-width="1.5"/>
<line x1="91.60" y1="384.92" x2="95.00" y2="384.92" stroke="#000" stroke-width="1.5"/>
<line x1="89.20" y1="389.56" x2="95.00" y2="389.56" stroke="#000" stroke-width="1.5"/>
<line x1="91.60" y1="394.20" x2="95.00" y2="394.20" stroke="#000" stroke-width="1.5"/>
<line x1="91.60" y1="398.85" x2="95.00" y2="398.85" stroke="#000" stroke-width="1.5"/>
<line x1="91.60" y1="403.49" x2="95.00" y2="403.49" stroke="#000" stroke-width="1.5"/>
<line x1="91.60" y1="408.14" x2="95.00" y2="408.14" stroke="#000" stroke-width="1.5"/>
<line x1="89.20" y1="412.78" x2="95.00" y2="412.78" stroke="#000" stroke-width="1.5"/>
<line x1="91.60" y1="417.42" x2="95.00" y2="417.42" stroke="#000" stroke-width="1.5"/>
<line x1="91.60" y1="422.07" x2="95.00" y2="422.07" stroke="#000" stroke-width="1.5"/>
<line x1="91.60" y1="426.71" x2="95.00" y2="426.71" stroke="#000" stroke-width="1.5"/>
<line x1="91.60" y1="431.36" x2="95.00" y2="431.36" stroke="#000" stroke-width="1.5"/>
<line x1="89.20" y1="436.00" x2="95.00" y2="436.00" stroke="#000" stroke-width="1.5"/>
<line x1="95.00" y1="437.30" x2="95.00" y2="443.80" stroke="#000" stroke-width="1.4"/>
<line x1="104.30" y1="437.30" x2="104.30" y2="440.70" stroke="#000" stroke-width="1.4"/>
<line x1="109.74" y1="437.30" x2="109.74" y2="440.70" stroke="#000" stroke-width="1.4"/>
<line x1="113.60" y1="437.30" x2="113.60" y2="440.70" stroke="#000" stroke-width="1.4"/>
<line x1="116.60" y1="437.30" x2="116.60" y2="440.70" stroke="#000" stroke-width="1.4"/>
<line x1="119.04" y1="437.30" x2="119.04" y2="440.70" stroke="#000" stroke-width="1.4"/>
<line x1="121.11" y1="437.30" x2="121.11" y2="440.70" stroke="#000" stroke-width="1.4"/>
<line x1="122.91" y1="437.30" x2="122.91" y2="440.70" stroke="#000" stroke-width="1.4"/>
<line x1="124.49" y1="437.30" x2="124.49" y2="440.70" stroke="#000" stroke-width="1.4"/>
<line x1="125.90" y1="437.30" x2="125.90" y2="443.80" stroke="#000" stroke-width="1.4"/>
<line x1="135.20" y1="437.30" x2="135.20" y2="440.70" stroke="#000" stroke-width="1.4"/>
<line x1="140.64" y1="437.30" x2="140.64" y2="440.70" stroke="#000" stroke-width="1.4"/>
<line x1="144.50" y1="437.30" x2="144.50" y2="440.70" stroke="#000" stroke-width="1.4"/>
<line x1="147.50" y1="437.30" x2="147.50" y2="440.70" stroke="#000" stroke-width="1.4"/>
<line x1="149.94" y1="437.30" x2="149.94" y2="440.70" stroke="#000" stroke-width="1.4"/>
<line x1="152.01" y1="437.30" x2="152.01" y2="440.70" stroke="#000" stroke-width="1.4"/>
<line x1="153.81" y1="437.30" x2="153.81" y2="440.70" stroke="#000" stroke-width="1.4"/>
<line x1="155.39" y1="437.30" x2="155.39" y2="440.70" stroke="#000" stroke-width="1.4"/>
<line x1="156.80" y1="437.30" x2="156.80" y2="443.80" stroke="#000" stroke-width="1.4"/>
<line x1="166.10" y1="437.30" x2="166.10" y2="440.70" stroke="#000" stroke-width="1.4"/>
<line x1="171.54" y1="437.30" x2="171.54" y2="440.70" stroke="#000" stroke-width="1.4"/>
<line x1="175.40" y1="437.30" x2="175.40" y2="440.70" stroke="#000" stroke-width="1.4"/>
<line x1="178.40" y1="437.30" x2="178.40" y2="440.70" stroke="#000" stroke-width="1.4"/>
<line x1="180.84" y1="437.30" x2="180.84" y2="440.70" stroke="#000" stroke-width="1.4"/>
<line x1="182.91" y1="437.30" x2="182.91" y2="440.70" stroke="#000" stroke-width="1.4"/>
<line x1="184.71" y1="437.30" x2="184.71" y2="440.70" stroke="#000" stroke-width="1.4"/>
<line x1="186.29" y1="437.30" x2="186.29" y2="440.70" stroke="#000" stroke-width="1.4"/>
<line x1="187.70" y1="437.30" x2="187.70" y2="443.80" stroke="#000" stroke-width="1.4"/>
<line x1="197.00" y1="437.30" x2="197.00" y2="440.70" stroke="#000" stroke-width="1.4"/>
<line x1="202.44" y1="437.30" x2="202.44" y2="440.70" stroke="#000" stroke-width="1.4"/>
<line x1="206.30" y1="437.30" x2="206.30" y2="440.70" stroke="#000" stroke-width="1.4"/>
<line x1="209.30" y1="437.30" x2="209.30" y2="440.70" stroke="#000" stroke-width="1.4"/>
<line x1="211.74" y1="437.30" x2="211.74" y2="440.70" stroke="#000" stroke-width="1.4"/>
<line x1="213.81" y1="437.30" x2="213.81" y2="440.70" stroke="#000" stroke-width="1.4"/>
<line x1="215.61" y1="437.30" x2="215.61" y2="440.70" stroke="#000" stroke-width="1.4"/>
<line x1="217.19" y1="437.30" x2="217.19" y2="440.70" stroke="#000" stroke-width="1.4"/>
<line x1="218.60" y1="437.30" x2="218.60" y2="443.80" stroke="#000" stroke-width="1.4"/>
<text x="86.6" y="459.0" style="font-family:'Liberation Sans',sans-serif;font-size:15.5px;font-weight:bold;" text-anchor="start" textLength="12.4" lengthAdjust="spacingAndGlyphs">10</text>
<text x="98.69999999999999" y="451.1" style="font-family:'Liberation Sans',sans-serif;font-size:14.0px;font-weight:bold;" text-anchor="start" textLength="6.4" lengthAdjust="spacingAndGlyphs">0</text>
<text x="117.49999999999999" y="459.0" style="font-family:'Liberation Sans',sans-serif;font-size:15.5px;font-weight:bold;" text-anchor="start" textLength="12.4" lengthAdjust="spacingAndGlyphs">10</text>
<text x="129.6" y="451.1" style="font-family:'Liberation Sans',sans-serif;font-size:14.0px;font-weight:bold;" text-anchor="start" textLength="6.4" lengthAdjust="spacingAndGlyphs">1</text>
<text x="148.4" y="459.0" style="font-family:'Liberation Sans',sans-serif;font-size:15.5px;font-weight:bold;" text-anchor="start" textLength="12.4" lengthAdjust="spacingAndGlyphs">10</text>
<text x="160.5" y="451.1" style="font-family:'Liberation Sans',sans-serif;font-size:14.0px;font-weight:bold;" text-anchor="start" textLength="6.4" lengthAdjust="spacingAndGlyphs">2</text>
<text x="179.3" y="459.0" style="font-family:'Liberation Sans',sans-serif;font-size:15.5px;font-weight:bold;" text-anchor="start" textLength="12.4" lengthAdjust="spacingAndGlyphs">10</text>
<text x="191.4" y="451.1" style="font-family:'Liberation Sans',sans-serif;font-size:14.0px;font-weight:bold;" text-anchor="start" textLength="6.4" lengthAdjust="spacingAndGlyphs">3</text>
<text x="210.2" y="459.0" style="font-family:'Liberation Sans',sans-serif;font-size:15.5px;font-weight:bold;" text-anchor="start" textLength="12.4" lengthAdjust="spacingAndGlyphs">10</text>
<text x="222.29999999999998" y="451.1" style="font-family:'Liberation Sans',sans-serif;font-size:14.0px;font-weight:bold;" text-anchor="start" textLength="6.4" lengthAdjust="spacingAndGlyphs">4</text>
<text x="85.6" y="331.2" style="font-family:'Liberation Sans',sans-serif;font-size:12.4px;font-weight:bold;" text-anchor="start" textLength="21.5" lengthAdjust="spacingAndGlyphs" transform="rotate(-90 85.6 331.2)">200</text>
<text x="85.6" y="439.6" style="font-family:'Liberation Sans',sans-serif;font-size:12.4px;font-weight:bold;" text-anchor="start" textLength="7.2" lengthAdjust="spacingAndGlyphs" transform="rotate(-90 85.6 439.6)">0</text>
<text x="194.6" y="341.9" style="font-family:'Liberation Serif',serif;font-size:26px;font-weight:bold;" text-anchor="start" textLength="15.8" lengthAdjust="spacingAndGlyphs" stroke="#000" stroke-width="0.45">E</text>
<text x="98.8" y="356.9" style="font-family:'Liberation Serif',serif;font-size:12px;font-weight:bold;" text-anchor="start" textLength="101" lengthAdjust="spacingAndGlyphs" stroke="#000" stroke-width="0.45">CHO/CD14/TLR-2</text>
<text x="134.0" y="395.0" style="font-family:'Liberation Serif',serif;font-size:14.3px;font-weight:bold;font-style:italic;" text-anchor="start" textLength="41" lengthAdjust="spacingAndGlyphs" stroke="#000" stroke-width="0.45">E. coli</text>
<text x="155.6" y="415.0" style="font-family:'Liberation Serif',serif;font-size:14.3px;font-weight:bold;font-style:italic;" text-anchor="start" textLength="58.5" lengthAdjust="spacingAndGlyphs" stroke="#000" stroke-width="0.45">S. aureus</text>
<text x="68.0" y="418.5" style="font-family:'Liberation Serif',serif;font-size:14.2px;font-weight:bold;" text-anchor="start" textLength="73.5" lengthAdjust="spacingAndGlyphs" transform="rotate(-90 68.0 418.5)" stroke="#000" stroke-width="0.45">Cell Counts</text>
<text x="103.6" y="477.9" style="font-family:'Liberation Serif',serif;font-size:14.6px;font-weight:bold;" text-anchor="start" textLength="106.2" lengthAdjust="spacingAndGlyphs" stroke="#000" stroke-width="0.45">CD25 expression</text>
<text x="80.2" y="515.0" style="font-family:'Liberation Serif',serif;font-size:15.3px;font-weight:bold;" text-anchor="start" textLength="154.6" lengthAdjust="spacingAndGlyphs" stroke="#000" stroke-width="0.45">FLUORESCENCE (log)</text>
<rect x="258.20" y="406.49" width="15.30" height="31.11" fill="#fff" stroke="#000" stroke-width="1.5"/>
<rect x="274.20" y="340.25" width="17.50" height="97.35" fill="#000"/>
<rect x="300.00" y="409.60" width="15.30" height="28.00" fill="#fff" stroke="#000" stroke-width="1.5"/>
<rect x="316.00" y="380.19" width="17.00" height="57.41" fill="#000"/>
<rect x="342.20" y="413.90" width="14.80" height="23.70" fill="#fff" stroke="#000" stroke-width="1.5"/>
<rect x="357.70" y="401.72" width="16.70" height="35.88" fill="#000"/>
<rect x="253.60" y="318.00" width="124.60" height="119.60" fill="none" stroke="#000" stroke-width="1.8"/>
<line x1="378.20" y1="437.60" x2="381.70" y2="437.60" stroke="#000" stroke-width="1.6"/>
<text x="384.8" y="443.8" style="font-family:'Liberation Serif',serif;font-size:12.2px;font-weight:bold;" text-anchor="start" textLength="7.0" lengthAdjust="spacingAndGlyphs" stroke="#000" stroke-width="0.45">0</text>
<line x1="378.20" y1="413.68" x2="381.70" y2="413.68" stroke="#000" stroke-width="1.6"/>
<text x="384.8" y="419.88" style="font-family:'Liberation Serif',serif;font-size:12.2px;font-weight:bold;" text-anchor="start" textLength="7.0" lengthAdjust="spacingAndGlyphs" stroke="#000" stroke-width="0.45">1</text>
<line x1="378.20" y1="389.76" x2="381.70" y2="389.76" stroke="#000" stroke-width="1.6"/>
<text x="384.8" y="395.96" style="font-family:'Liberation Serif',serif;font-size:12.2px;font-weight:bold;" text-anchor="start" textLength="7.0" lengthAdjust="spacingAndGlyphs" stroke="#000" stroke-width="0.45">2</text>
<line x1="378.20" y1="365.84" x2="381.70" y2="365.84" stroke="#000" stroke-width="1.6"/>
<text x="384.8" y="372.04" style="font-family:'Liberation Serif',serif;font-size:12.2px;font-weight:bold;" text-anchor="start" textLength="7.0" lengthAdjust="spacingAndGlyphs" stroke="#000" stroke-width="0.45">3</text>
<line x1="378.20" y1="341.92" x2="381.70" y2="341.92" stroke="#000" stroke-width="1.6"/>
<text x="384.8" y="348.12" style="font-family:'Liberation Serif',serif;font-size:12.2px;font-weight:bold;" text-anchor="start" textLength="7.0" lengthAdjust="spacingAndGlyphs" stroke="#000" stroke-width="0.45">4</text>
<line x1="378.20" y1="318.00" x2="381.70" y2="318.00" stroke="#000" stroke-width="1.6"/>
<text x="384.8" y="324.2" style="font-family:'Liberation Serif',serif;font-size:12.2px;font-weight:bold;" text-anchor="start" textLength="7.0" lengthAdjust="spacingAndGlyphs" stroke="#000" stroke-width="0.45">5</text>
<line x1="274.20" y1="437.60" x2="274.20" y2="441.10" stroke="#000" stroke-width="1.6"/>
<line x1="316.00" y1="437.60" x2="316.00" y2="441.10" stroke="#000" stroke-width="1.6"/>
<line x1="357.70" y1="437.60" x2="357.70" y2="441.10" stroke="#000" stroke-width="1.6"/>
<text x="280.2" y="455.6" style="font-family:'Liberation Serif',serif;font-size:14px;font-weight:bold;" text-anchor="middle" textLength="28.6" lengthAdjust="spacingAndGlyphs" stroke="#000" stroke-width="0.45">5000</text>
<text x="320.9" y="455.6" style="font-family:'Liberation Serif',serif;font-size:14px;font-weight:bold;" text-anchor="middle" textLength="22.2" lengthAdjust="spacingAndGlyphs" stroke="#000" stroke-width="0.45">500</text>
<text x="360.35" y="455.6" style="font-family:'Liberation Serif',serif;font-size:14px;font-weight:bold;" text-anchor="middle" textLength="13.3" lengthAdjust="spacingAndGlyphs" stroke="#000" stroke-width="0.45">50</text>
<text x="407.7" y="331" style="font-family:'Liberation Serif',serif;font-size:14px;font-weight:bold;" text-anchor="start" textLength="85.4" lengthAdjust="spacingAndGlyphs" transform="rotate(90 407.7 331)" stroke="#000" stroke-width="0.45">Fold Increase</text>
<text x="284.0" y="331.0" style="font-family:'Liberation Serif',serif;font-size:14.3px;font-weight:bold;font-style:italic;" text-anchor="start" textLength="58" lengthAdjust="spacingAndGlyphs" stroke="#000" stroke-width="0.45">S. aureus</text>
<text x="354.6" y="340.5" style="font-family:'Liberation Serif',serif;font-size:26px;font-weight:bold;" text-anchor="start" textLength="17.8" lengthAdjust="spacingAndGlyphs" stroke="#000" stroke-width="0.45">G</text>
<text x="257.8" y="479.8" style="font-family:'Liberation Serif',serif;font-size:14.3px;font-weight:bold;" text-anchor="start" textLength="124.4" lengthAdjust="spacingAndGlyphs" stroke="#000" stroke-width="0.45">PATHOGEN:CHO</text>
<text x="275.4" y="496.0" style="font-family:'Liberation Serif',serif;font-size:14.3px;font-weight:bold;" text-anchor="start" textLength="91.6" lengthAdjust="spacingAndGlyphs" stroke="#000" stroke-width="0.45">CELL RATIO</text>
<rect x="38.9" y="54.2" width="2.7" height="73.7" fill="#8a8a8a"/>
<polygon points="41.50,117.50 42.30,117.00 45.00,116.00 48.70,111.80 52.00,107.80 55.00,104.30 57.30,101.80 60.00,99.20 62.90,99.60 65.80,101.30 68.70,103.70 71.00,106.50 73.30,108.30 75.60,110.00 77.30,113.50 79.60,116.90 81.90,118.70 85.40,119.80 90.00,121.00 95.00,122.50 100.00,123.80 106.00,124.60 113.00,125.20 125.00,126.00 145.00,126.70 161.00,127.00 161.00,127.80 41.50,127.80" fill="#8e8e8e" stroke="none" stroke-width="1" />
<polygon points="41.60,123.75 43.50,119.80 46.00,117.00 48.70,114.00 51.50,110.80 54.40,107.70 57.30,104.80 60.00,103.70 62.90,103.70 65.80,104.80 68.70,106.50 71.00,109.40 73.30,112.90 75.60,115.20 77.90,118.10 80.20,120.40 83.10,122.10 87.10,123.30 90.00,123.90 95.00,124.80 101.00,125.80 110.00,126.60 125.00,127.20 160.00,127.60 160.00,127.90 41.60,127.90" fill="#000" stroke="none" stroke-width="1" />
<polyline points="41.50,117.50 42.30,117.00 45.00,116.00 48.70,111.80 52.00,107.80 55.00,104.30 57.30,101.80 60.00,99.20 62.90,99.60 65.80,101.30 68.70,103.70 71.00,106.50 73.30,108.30 75.60,110.00 77.30,113.50 79.60,116.90 81.90,118.70 85.40,119.80 90.00,121.00 95.00,122.50 100.00,123.80 106.00,124.60 113.00,125.20 125.00,126.00 145.00,126.70 161.00,127.00" fill="none" stroke="#7a7a7a" stroke-width="0.8" stroke-linejoin="round" />
<polyline points="43.50,116.30 46.00,113.20 48.50,110.50 51.00,107.80 53.50,104.80 55.60,102.60 58.00,101.20" fill="none" stroke="#000" stroke-width="1.7" stroke-linejoin="round" stroke-dasharray="1.6 1.3"/>
<line x1="74.70" y1="104.90" x2="80.49" y2="97.57" stroke="#000" stroke-width="2.0"/>
<polygon points="85.20,91.60 83.95,101.57 75.79,95.13" fill="#000" stroke="none" stroke-width="1" />
<rect x="199.6" y="32.5" width="1.3" height="94" fill="#888"/>
<polygon points="201.30,110.00 202.50,107.00 204.90,103.80 207.20,100.80 209.50,99.20 211.10,96.50 212.20,94.80 213.40,96.20 214.50,97.70 216.10,98.50 217.20,101.50 218.80,103.80 220.70,106.50 222.60,110.00 224.50,111.00 225.70,113.80 227.20,116.90 229.50,120.00 232.60,122.30 238.00,123.60 246.00,124.20 261.00,124.80 290.00,125.60 290.00,126.60 201.30,126.60" fill="#000" stroke="none" stroke-width="1" />
<polyline points="201.20,122.30 202.60,119.20 204.90,116.20 208.00,114.60 211.10,113.50 214.20,111.50 217.20,110.00 220.30,108.80 223.40,108.10 226.50,106.90 228.80,106.50 231.00,108.50 234.20,110.00 237.20,112.30 241.00,114.25 245.20,116.90 249.80,119.20 254.50,121.00 261.40,122.70 264.80,123.60 270.60,124.30 277.50,124.60 284.00,125.40" fill="none" stroke="#8c8c8c" stroke-width="2.4" stroke-linejoin="round" />
<line x1="239.60" y1="108.50" x2="245.04" y2="101.95" stroke="#000" stroke-width="2.0"/>
<polygon points="249.90,96.10 248.40,106.04 240.40,99.39" fill="#000" stroke="none" stroke-width="1" />
<rect x="95.2" y="268" width="2.2" height="12.5" fill="#7a7a7a"/>
<polygon points="96.50,272.00 97.50,276.00 99.00,277.00 101.00,274.50 104.60,271.00 107.50,267.50 110.40,264.20 114.20,260.40 118.10,254.60 120.00,251.25 122.90,249.30 126.70,249.80 129.60,250.80 132.50,255.60 135.40,260.40 139.20,265.20 143.10,269.00 147.00,271.90 152.00,275.00 157.00,276.90 165.00,278.30 175.00,279.20 190.00,279.90 190.00,280.50 97.00,280.50" fill="#7c7c7c" stroke="none" stroke-width="1" />
<polygon points="100.00,279.50 104.60,276.70 109.40,272.90 114.20,267.10 117.10,261.30 120.00,256.50 122.90,254.10 125.80,253.70 128.70,255.60 131.50,260.40 134.40,266.20 137.30,270.00 141.20,273.80 145.00,276.20 150.75,277.60 157.00,278.80 170.00,279.80 185.00,280.30 185.00,280.50 100.00,280.50" fill="#000" stroke="none" stroke-width="1" />
<polyline points="96.50,272.00 97.50,276.00 99.00,277.00 101.00,274.50 104.60,271.00 107.50,267.50 110.40,264.20 114.20,260.40 118.10,254.60 120.00,251.25 122.90,249.30 126.70,249.80 129.60,250.80 132.50,255.60 135.40,260.40 139.20,265.20 143.10,269.00 147.00,271.90 152.00,275.00 157.00,276.90 165.00,278.30 175.00,279.20 190.00,279.90" fill="none" stroke="#5a5a5a" stroke-width="0.8" stroke-linejoin="round" />
<polyline points="99.80,275.80 103.00,273.20 106.50,271.00 109.40,268.00 111.30,265.00 113.50,262.50" fill="none" stroke="#000" stroke-width="1.6" stroke-linejoin="round" stroke-dasharray="1.5 1.4"/>
<polyline points="135.00,262.50 137.00,260.60 142.00,257.50 147.00,256.60 149.50,254.60 153.25,258.75 155.75,262.50 157.50,265.00 162.00,269.30 167.00,272.00 172.00,275.40 180.00,278.00 190.00,279.60" fill="none" stroke="#000" stroke-width="1.8" stroke-linejoin="round" stroke-dasharray="1.8 1.5"/>
<line x1="124.90" y1="246.00" x2="129.37" y2="242.10" stroke="#000" stroke-width="2.0"/>
<polygon points="135.10,237.10 132.04,246.67 125.20,238.84" fill="#000" stroke="none" stroke-width="1" />
<line x1="160.00" y1="257.00" x2="165.04" y2="253.01" stroke="#000" stroke-width="2.0"/>
<polygon points="171.00,248.30 167.48,257.71 161.03,249.56" fill="#000" stroke="none" stroke-width="1" />
<polygon points="96.75,432.25 100.50,429.10 104.25,427.25 106.75,424.75 109.25,421.00 111.75,417.90 114.25,412.25 116.10,406.00 118.00,401.00 119.90,400.40 122.40,402.25 124.25,406.00 126.10,409.10 128.00,413.50 129.90,417.90 131.75,422.25 133.00,426.00 134.60,429.40 138.00,430.60 144.20,432.60 153.80,434.10 163.50,435.50 175.00,436.20 200.00,436.70 200.00,437.40 96.75,437.40" fill="#000" stroke="none" stroke-width="1" />
<polyline points="97.00,434.50 105.50,433.50 113.00,432.25 118.00,429.10 123.00,424.75 128.00,421.60 131.75,418.50 135.50,416.60 140.50,416.60 145.50,416.00 148.60,417.00 150.30,419.50 152.00,422.50 153.80,425.60 157.70,429.40 161.50,432.30 167.30,434.20 175.00,435.50 190.00,436.30" fill="none" stroke="#747474" stroke-width="2.8" stroke-linejoin="round" stroke-dasharray="2.4 0.8"/>
<polyline points="131.50,414.00 134.00,411.00 137.00,409.80 141.00,410.40 145.50,411.50 148.50,414.00" fill="none" stroke="#000" stroke-width="1.6" stroke-linejoin="round" stroke-dasharray="1.4 1.4"/>
<polyline points="133.00,409.00 137.00,408.50 141.00,409.00" fill="none" stroke="#000" stroke-width="1.5" stroke-linejoin="round" stroke-dasharray="1.4 2"/>
<line x1="141.10" y1="408.50" x2="145.05" y2="405.08" stroke="#000" stroke-width="2.0"/>
<polygon points="150.80,400.10 147.70,409.66 140.89,401.80" fill="#000" stroke="none" stroke-width="1" />
<line x1="165.40" y1="429.20" x2="170.67" y2="424.60" stroke="#000" stroke-width="2.0"/>
<polygon points="176.40,419.60 173.34,429.17 166.50,421.34" fill="#000" stroke="none" stroke-width="1" />
<rect x="38.00" y="13.90" width="123.90" height="113.90" fill="none" stroke="#000" stroke-width="2.0"/>
<rect x="198.60" y="12.60" width="123.90" height="113.90" fill="none" stroke="#000" stroke-width="2.0"/>
<rect x="94.40" y="168.00" width="124.10" height="112.40" fill="none" stroke="#000" stroke-width="2.0"/>
<rect x="95.00" y="319.90" width="123.60" height="117.40" fill="none" stroke="#000" stroke-width="2.0"/>
<rect x="119" y="489.4" width="61" height="3.9" fill="#000"/>
<polygon points="192.70,491.40 178.80,484.60 178.80,498.20" fill="#000" stroke="none" stroke-width="1" />
</svg>
</body></html>
